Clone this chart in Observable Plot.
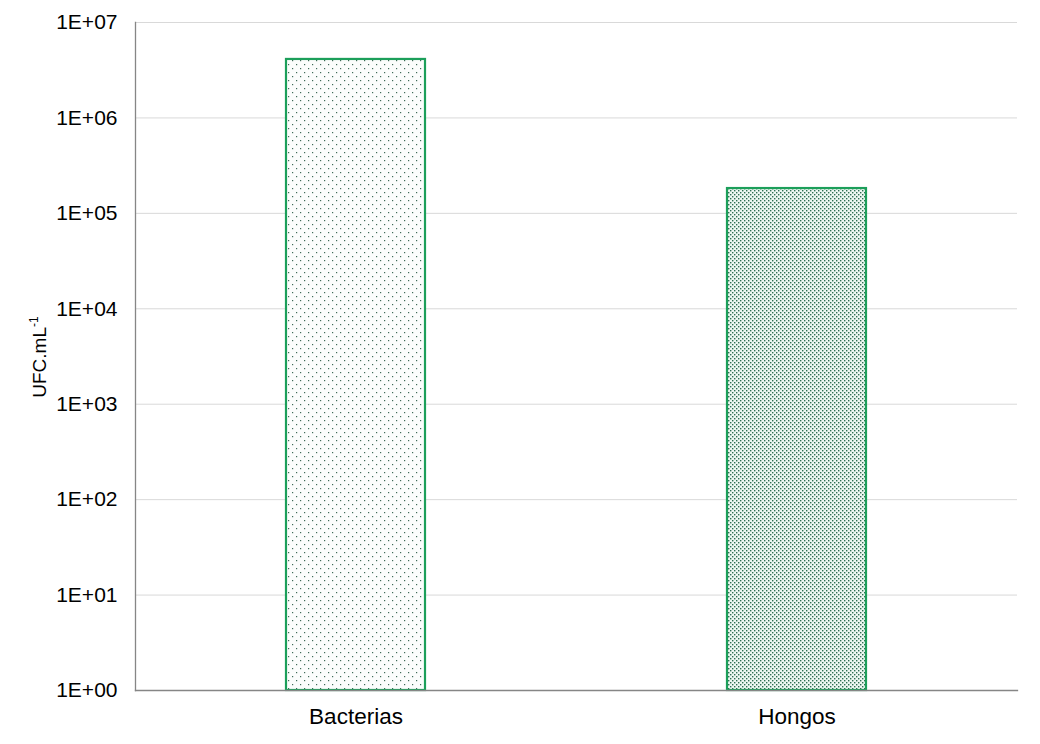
<!DOCTYPE html>
<html>
<head>
<meta charset="utf-8">
<script src="https://cdn.jsdelivr.net/npm/d3@7"></script>
<script src="https://cdn.jsdelivr.net/npm/@observablehq/plot@0.6"></script>
<style>
  html, body { margin: 0; padding: 0; background: #fff; }
  #chart { width: 1040px; height: 744px; }
</style>
</head>
<body>
<div id="chart"></div>
<script>
const categories = ["Bacterias", "Hongos"];
const values = [4.1e6, 1.82e5];
const patterns = ["dotsLight", "dotsDense"];
const yTicks = [1e0, 1e1, 1e2, 1e3, 1e4, 1e5, 1e6, 1e7];
const yTickLabels = ["1E+00", "1E+01", "1E+02", "1E+03", "1E+04", "1E+05", "1E+06", "1E+07"];

const data = categories.map((c, i) => ({category: c, value: values[i], pattern: patterns[i]}));
const font = "'Liberation Sans', Arial, sans-serif";

const plot = Plot.plot({
  width: 1040,
  height: 744,
  marginLeft: 135,
  marginRight: 23,
  marginTop: 22,
  marginBottom: 54,
  style: {fontFamily: font, fontSize: "21px", color: "#000", background: "#fff"},
  x: {domain: categories, paddingInner: 0.685, paddingOuter: 0.3425, label: null},
  y: {type: "log", domain: [1, 1e7], ticks: yTicks, tickFormat: d => yTickLabels[yTicks.indexOf(d)], label: null},
  marks: [
    Plot.gridY(yTicks.filter(t => t > 1), {stroke: "#d9d9d9", strokeOpacity: 1, strokeWidth: 1}),
    Plot.axisY(yTicks, {tickSize: 0, tickPadding: 18, fontSize: 21, tickFormat: d => yTickLabels[yTicks.indexOf(d)]}),
    Plot.axisX({tickSize: 0, tickPadding: 18, fontSize: 22.5}),
    Plot.barY(data, {x: "category", y1: 1, y2: "value", fill: d => `url(#${d.pattern})`, stroke: "#1c9f5a", strokeWidth: 2.2}),
    Plot.frame({anchor: "left", stroke: "#868686", strokeWidth: 1.3}),
    Plot.frame({anchor: "bottom", stroke: "#868686", strokeWidth: 1.3})
  ]
});

document.getElementById("chart").appendChild(plot);

const svg = d3.select(plot);
const defs = svg.insert("defs", ":first-child");
// Light, sparse dot pattern (Bacterias)
const p1 = defs.append("pattern").attr("id", "dotsLight").attr("patternUnits", "userSpaceOnUse").attr("width", 8).attr("height", 8);
p1.append("rect").attr("width", 8).attr("height", 8).attr("fill", "#fbfdfc");
p1.append("rect").attr("x", 0).attr("y", 0).attr("width", 1.2).attr("height", 1.2).attr("fill", "#3f6b58");
p1.append("rect").attr("x", 4).attr("y", 4).attr("width", 1.2).attr("height", 1.2).attr("fill", "#3f6b58");
// Dense dot pattern (Hongos)
const p2 = defs.append("pattern").attr("id", "dotsDense").attr("patternUnits", "userSpaceOnUse").attr("width", 4).attr("height", 4);
p2.append("rect").attr("width", 4).attr("height", 4).attr("fill", "#eef8f2");
p2.append("rect").attr("x", 0).attr("y", 0).attr("width", 1.4).attr("height", 1.4).attr("fill", "#2f6e52");
p2.append("rect").attr("x", 2).attr("y", 2).attr("width", 1.4).attr("height", 1.4).attr("fill", "#2f6e52");

// y axis title with superscript
const t = svg.append("text")
  .attr("transform", "translate(46,357) rotate(-90)")
  .attr("text-anchor", "middle")
  .attr("font-family", font)
  .attr("font-size", 19)
  .attr("fill", "#000");
t.append("tspan").text("UFC.mL");
t.append("tspan").attr("font-size", 12).attr("dy", -8).text("-1");
</script>
</body>
</html>
